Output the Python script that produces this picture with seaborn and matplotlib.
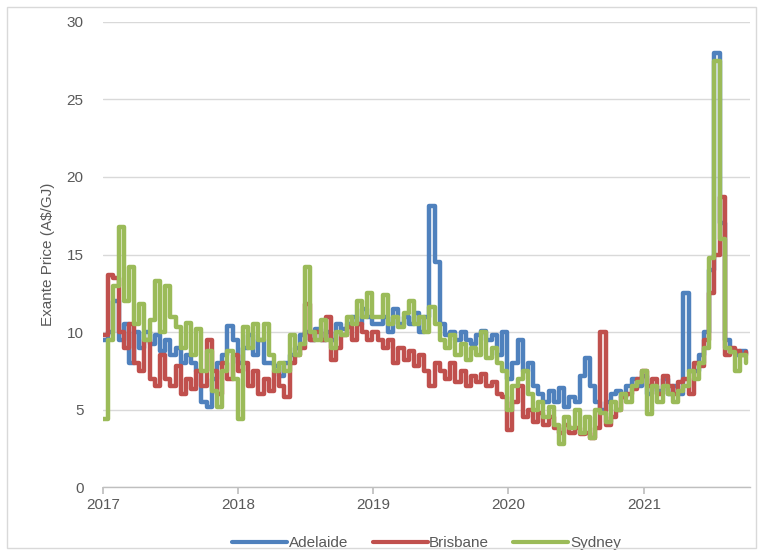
import numpy as np
import pandas as pd
import matplotlib
matplotlib.use("Agg")
import matplotlib.pyplot as plt
import seaborn as sns
from matplotlib.patches import Rectangle

# ---- data (fortnightly samples) ----
dates = pd.date_range("2017-01-01", periods=125, freq="14D")

adelaide = [
    9.5, 10.0, 12.0, 9.5, 10.5, 8.0, 10.0, 9.0, 10.0, 9.2, 9.8, 8.8, 9.5, 8.5, 9.0, 8.0, 8.5, 8.0, 7.5, 5.5, 5.2, 7.0, 8.0, 8.5, 10.4, 9.5, 8.0,
    9.0, 9.8, 8.5, 9.5, 8.0, 8.0, 7.8, 7.2, 8.0, 8.5, 9.0, 9.8, 10.0, 9.5, 10.2, 9.5, 10.0, 9.5, 10.5, 10.2, 10.5, 11.0, 10.5, 11.5, 11.0, 10.5,
    10.5, 11.0, 10.0, 11.5, 10.5, 11.0, 10.5, 11.2, 10.0, 11.0, 18.1, 14.5, 10.5, 9.8, 10.0, 9.5, 10.0, 9.5, 9.2, 9.8, 10.1, 9.5, 9.8, 8.5, 10.0, 7.0,
    8.0, 9.5, 7.5, 8.0, 6.5, 6.0, 5.5, 6.2, 5.5, 6.4, 5.2, 5.8, 5.5, 7.2, 8.3, 6.5, 5.5, 5.0, 5.5, 6.0, 6.2, 5.8, 6.5, 7.0, 6.5, 7.2, 6.0,
    6.5, 6.2, 7.0, 6.0, 6.5, 6.0, 12.5, 7.5, 7.5, 8.5, 10.0, 14.0, 28.0, 17.0, 9.5, 8.8, 8.5, 8.8, 8.6,
]

brisbane = [
    9.8, 13.7, 13.5, 10.0, 9.0, 10.5, 8.0, 7.5, 9.5, 7.0, 6.5, 8.5, 7.0, 6.5, 7.8, 6.0, 7.0, 6.3, 7.5, 6.5, 9.5, 7.5, 6.0, 8.0, 7.0, 8.5, 7.5,
    8.0, 6.5, 7.5, 6.0, 7.0, 6.2, 7.5, 6.5, 5.8, 8.0, 8.5, 9.0, 11.8, 9.5, 10.0, 9.5, 11.0, 8.2, 9.0, 9.8, 10.3, 9.5, 10.5, 10.0, 9.5, 10.0,
    9.5, 9.0, 9.5, 8.0, 9.0, 8.2, 8.8, 7.8, 8.5, 7.5, 6.5, 8.0, 7.5, 7.0, 8.0, 6.8, 7.5, 6.5, 7.2, 6.8, 7.3, 6.5, 6.8, 6.0, 5.8, 3.7,
    5.5, 6.5, 4.5, 5.0, 4.2, 4.8, 4.0, 4.5, 3.8, 3.5, 4.0, 3.5, 3.8, 3.4, 3.5, 3.2, 3.8, 10.0, 4.0, 4.5, 5.0, 5.8, 6.0, 6.3, 7.0, 7.5, 6.5,
    7.0, 6.0, 7.2, 6.5, 6.0, 6.8, 7.0, 6.0, 8.0, 7.8, 9.5, 12.5, 15.0, 18.7, 8.5, 9.0, 8.8, 8.5, 8.7,
]

sydney = [
    4.4, 9.5, 13.0, 16.8, 12.0, 14.2, 10.5, 11.8, 9.5, 10.8, 13.3, 10.0, 13.0, 11.0, 10.3, 9.0, 10.6, 8.5, 10.2, 7.5, 8.8, 6.2, 5.2, 7.5, 8.8, 7.0, 4.4,
    10.3, 9.0, 10.5, 9.5, 10.5, 8.5, 7.5, 8.0, 7.5, 9.8, 8.5, 9.2, 14.2, 10.0, 9.5, 10.8, 9.5, 9.0, 10.0, 9.8, 11.0, 10.5, 12.0, 11.0, 12.5, 11.0,
    11.0, 12.4, 10.5, 11.0, 10.3, 11.2, 12.0, 10.5, 11.0, 10.0, 11.6, 10.5, 9.5, 9.0, 9.8, 8.5, 9.2, 8.2, 9.0, 8.5, 10.0, 8.3, 9.0, 8.0, 7.5, 5.0,
    6.5, 7.0, 7.5, 6.0, 5.0, 5.5, 4.5, 5.2, 4.0, 2.8, 4.5, 3.8, 5.0, 3.5, 4.5, 3.2, 5.0, 4.8, 4.2, 5.5, 5.0, 6.0, 5.5, 6.5, 6.8, 7.5, 4.7,
    6.5, 5.5, 6.5, 6.0, 5.5, 6.2, 6.5, 7.5, 7.0, 8.0, 9.0, 14.8, 27.5, 16.0, 9.0, 8.7, 7.5, 8.5, 8.0,
]

cities = ["Adelaide", "Brisbane", "Sydney"]
colors = ["#4F81BD", "#C0504D", "#9BBB59"]
year_ticks = ["2017", "2018", "2019", "2020", "2021"]
y_ticks = [0, 5, 10, 15, 20, 25, 30]

df = pd.concat([
    pd.DataFrame({"date": dates, "price": vals, "city": name})
    for name, vals in zip(cities, [adelaide, brisbane, sydney])
], ignore_index=True)

# ---- plot ----
sns.set_theme(style="white")
plt.rcParams["font.family"] = ["Liberation Sans", "DejaVu Sans"]

fig = plt.figure(figsize=(7.63, 5.60), dpi=100)
ax = fig.add_axes([0.135, 0.130, 0.848, 0.831])

sns.lineplot(data=df, x="date", y="price", hue="city", hue_order=cities,
             palette=colors, estimator=None, drawstyle="steps-post",
             linewidth=3.2, ax=ax)

ax.set_ylim(0, 30)
ax.set_yticks(y_ticks)
ax.set_xlim(pd.Timestamp("2017-01-01"), pd.Timestamp("2021-10-15"))
ax.set_xticks([pd.Timestamp(f"{y}-01-01") for y in year_ticks])
ax.set_xticklabels(year_ticks)

ax.grid(axis="y", color="#D9D9D9", linewidth=1)
ax.grid(axis="x", visible=False)
ax.set_axisbelow(True)
for s in ["left", "right", "top"]:
    ax.spines[s].set_visible(False)
ax.spines["bottom"].set_color("#BFBFBF")
ax.spines["bottom"].set_linewidth(1)

ax.tick_params(axis="x", colors="#595959", labelsize=11, length=5,
               color="#BFBFBF", direction="out", bottom=True, pad=3)
ax.tick_params(axis="y", colors="#595959", labelsize=11, length=0, pad=14)

ax.set_xlabel("")
ax.set_ylabel("Exante Price (A$/GJ)", color="#595959", fontsize=11, labelpad=8)

leg = ax.legend(loc="upper center", bbox_to_anchor=(0.5, -0.075), ncol=3,
                frameon=False, fontsize=11, handlelength=3.6,
                handletextpad=0.1, columnspacing=1.6)
for t in leg.get_texts():
    t.set_color("#595959")
for h in leg.get_lines():
    h.set_linewidth(3)

fig.patches.append(Rectangle((0.009, 0.022), 0.982, 0.966, transform=fig.transFigure,
                             fill=False, edgecolor="#D9D9D9", linewidth=1))

fig.savefig("out.png", dpi=100)
